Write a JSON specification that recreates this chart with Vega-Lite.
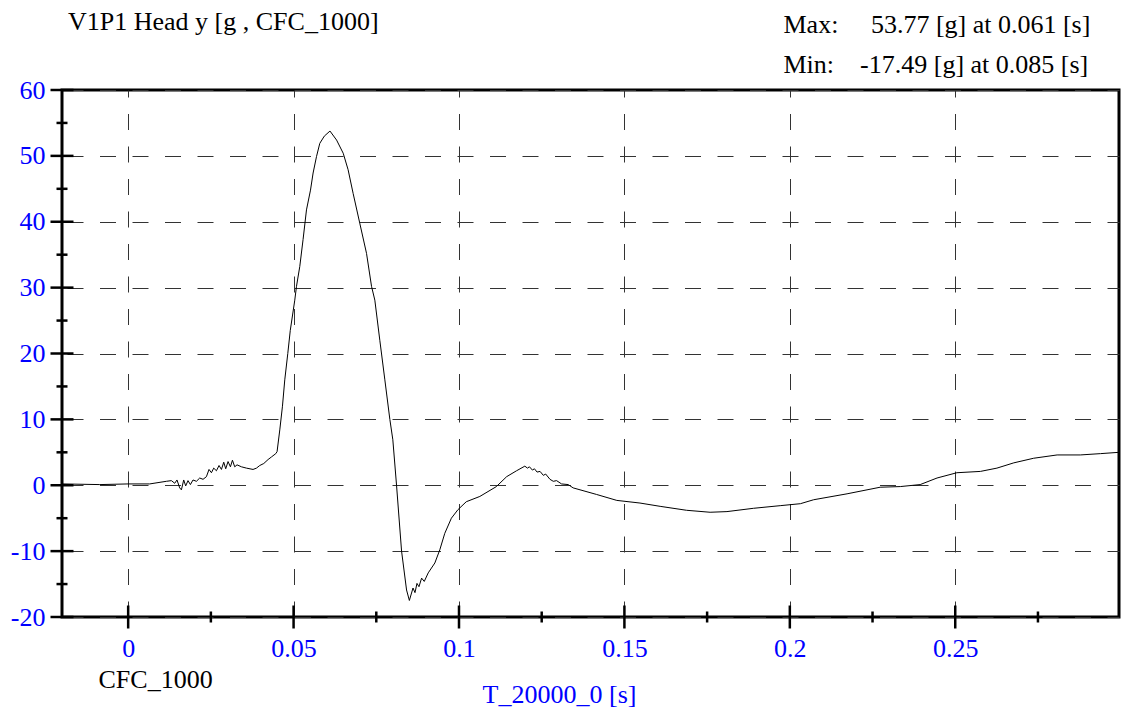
{
  "$schema": "https://vega.github.io/schema/vega-lite/v6.json",
  "width": 1057,
  "height": 527,
  "autosize": {"type": "none"},
  "padding": {"left": 62, "top": 90, "right": 2, "bottom": 96},
  "background": "white",
  "config": {
    "font": "Liberation Serif",
    "view": {"stroke": "black", "strokeWidth": 3},
    "axis": {
      "labelFont": "Liberation Serif",
      "labelFontSize": 26,
      "titleFont": "Liberation Serif",
      "titleFontSize": 26,
      "titleFontWeight": "normal"
    }
  },
  "title": {
    "text": "V1P1 Head y [g , CFC_1000]",
    "orient": "none",
    "anchor": "start",
    "font": "Liberation Serif",
    "fontSize": 26,
    "fontWeight": "normal",
    "color": "black",
    "baseline": "alphabetic",
    "dx": 6,
    "dy": -60
  },
  "datasets": {
    "curve": [
      {"t": -0.02, "g": 0.2}, {"t": -0.0086, "g": 0.1}, {"t": 0.0, "g": 0.2}, {"t": 0.0065, "g": 0.2},
      {"t": 0.01155, "g": 0.6}, {"t": 0.01307, "g": 0.7}, {"t": 0.01407, "g": 0.3}, {"t": 0.01476, "g": 0.8},
      {"t": 0.01558, "g": -0.4}, {"t": 0.01609, "g": -0.7}, {"t": 0.01679, "g": 0.8}, {"t": 0.01739, "g": -0.1},
      {"t": 0.01809, "g": 0.7}, {"t": 0.01881, "g": 0.1}, {"t": 0.0196, "g": 0.8}, {"t": 0.02063, "g": 0.6},
      {"t": 0.02163, "g": 1.1}, {"t": 0.02263, "g": 0.9}, {"t": 0.02365, "g": 1.3}, {"t": 0.02444, "g": 2.4},
      {"t": 0.02517, "g": 1.9}, {"t": 0.02586, "g": 2.6}, {"t": 0.02668, "g": 2.2}, {"t": 0.02747, "g": 3.0},
      {"t": 0.02819, "g": 2.4}, {"t": 0.02889, "g": 3.5}, {"t": 0.02949, "g": 2.5}, {"t": 0.03019, "g": 3.6},
      {"t": 0.03091, "g": 2.8}, {"t": 0.03152, "g": 3.8}, {"t": 0.03221, "g": 2.8}, {"t": 0.03291, "g": 3.1},
      {"t": 0.03424, "g": 2.8}, {"t": 0.03575, "g": 2.6}, {"t": 0.03775, "g": 2.4}, {"t": 0.03878, "g": 2.6},
      {"t": 0.03978, "g": 3.0}, {"t": 0.04099, "g": 3.3}, {"t": 0.04229, "g": 3.9}, {"t": 0.04332, "g": 4.3},
      {"t": 0.04462, "g": 4.8}, {"t": 0.04501, "g": 5.1}, {"t": 0.04583, "g": 8.4}, {"t": 0.04664, "g": 12.0},
      {"t": 0.04734, "g": 16.0}, {"t": 0.04825, "g": 20.0}, {"t": 0.049, "g": 23.5}, {"t": 0.05036, "g": 28.1},
      {"t": 0.05088, "g": 30.2}, {"t": 0.05187, "g": 33.2}, {"t": 0.05287, "g": 37.3}, {"t": 0.0539, "g": 41.8},
      {"t": 0.05511, "g": 44.8}, {"t": 0.0559, "g": 47.4}, {"t": 0.05693, "g": 49.9}, {"t": 0.05792, "g": 51.9},
      {"t": 0.05929, "g": 53.0}, {"t": 0.061, "g": 53.77}, {"t": 0.063, "g": 52.4}, {"t": 0.065, "g": 50.4},
      {"t": 0.06648, "g": 47.9}, {"t": 0.068, "g": 44.3}, {"t": 0.07, "g": 39.8}, {"t": 0.07205, "g": 35.2},
      {"t": 0.07356, "g": 30.2}, {"t": 0.07456, "g": 28.1}, {"t": 0.07607, "g": 22.0}, {"t": 0.07759, "g": 16.0},
      {"t": 0.0791, "g": 10.0}, {"t": 0.08, "g": 6.9}, {"t": 0.08112, "g": 0.0}, {"t": 0.08264, "g": -10.0},
      {"t": 0.08415, "g": -15.9}, {"t": 0.085, "g": -17.49}, {"t": 0.0861, "g": -15.6}, {"t": 0.0867, "g": -16.3},
      {"t": 0.0873, "g": -14.9}, {"t": 0.0879, "g": -15.4}, {"t": 0.0887, "g": -14.1}, {"t": 0.0895, "g": -14.6},
      {"t": 0.0907, "g": -13.3}, {"t": 0.0927, "g": -11.8}, {"t": 0.0942, "g": -9.8}, {"t": 0.0957, "g": -7.3},
      {"t": 0.0977, "g": -5.0}, {"t": 0.0997, "g": -3.7}, {"t": 0.1022, "g": -2.5}, {"t": 0.1063, "g": -1.7},
      {"t": 0.1113, "g": -0.2}, {"t": 0.1144, "g": 1.3}, {"t": 0.1174, "g": 2.2}, {"t": 0.1199, "g": 2.9},
      {"t": 0.1207, "g": 2.6}, {"t": 0.1213, "g": 2.8}, {"t": 0.1222, "g": 2.3}, {"t": 0.1228, "g": 2.5},
      {"t": 0.1236, "g": 2.0}, {"t": 0.1245, "g": 2.1}, {"t": 0.1255, "g": 1.5}, {"t": 0.1262, "g": 1.7},
      {"t": 0.1275, "g": 0.9}, {"t": 0.1285, "g": 0.6}, {"t": 0.1295, "g": 0.7}, {"t": 0.131, "g": 0.2},
      {"t": 0.133, "g": 0.1}, {"t": 0.1345, "g": -0.4}, {"t": 0.1416, "g": -1.4}, {"t": 0.1477, "g": -2.3},
      {"t": 0.1547, "g": -2.7}, {"t": 0.1608, "g": -3.2}, {"t": 0.1688, "g": -3.8}, {"t": 0.1759, "g": -4.1},
      {"t": 0.181, "g": -4.0}, {"t": 0.189, "g": -3.5}, {"t": 0.1971, "g": -3.1}, {"t": 0.2032, "g": -2.8},
      {"t": 0.2072, "g": -2.2}, {"t": 0.2173, "g": -1.3}, {"t": 0.2273, "g": -0.3}, {"t": 0.2334, "g": -0.2},
      {"t": 0.2394, "g": 0.1}, {"t": 0.2445, "g": 1.1}, {"t": 0.2505, "g": 1.9}, {"t": 0.2576, "g": 2.1},
      {"t": 0.2626, "g": 2.6}, {"t": 0.2677, "g": 3.4}, {"t": 0.2737, "g": 4.1}, {"t": 0.2808, "g": 4.6},
      {"t": 0.2878, "g": 4.6}, {"t": 0.2939, "g": 4.8}, {"t": 0.2995, "g": 5.0}
    ],
    "yticks": [
      {"v": -20, "kind": "major"}, {"v": -10, "kind": "major"}, {"v": 0, "kind": "major"}, {"v": 10, "kind": "major"},
      {"v": 20, "kind": "major"}, {"v": 30, "kind": "major"}, {"v": 40, "kind": "major"}, {"v": 50, "kind": "major"},
      {"v": 60, "kind": "major"},
      {"v": -15, "kind": "minor"}, {"v": -5, "kind": "minor"}, {"v": 5, "kind": "minor"}, {"v": 15, "kind": "minor"},
      {"v": 25, "kind": "minor"}, {"v": 35, "kind": "minor"}, {"v": 45, "kind": "minor"}, {"v": 55, "kind": "minor"}
    ],
    "xticks": [
      {"v": 0, "kind": "major"}, {"v": 0.05, "kind": "major"}, {"v": 0.1, "kind": "major"}, {"v": 0.15, "kind": "major"},
      {"v": 0.2, "kind": "major"}, {"v": 0.25, "kind": "major"},
      {"v": 0.025, "kind": "minor"}, {"v": 0.075, "kind": "minor"}, {"v": 0.125, "kind": "minor"},
      {"v": 0.175, "kind": "minor"}, {"v": 0.225, "kind": "minor"}, {"v": 0.275, "kind": "minor"}
    ]
  },
  "layer": [
    {
      "data": {"name": "curve"},
      "mark": {"type": "line", "color": "black", "strokeWidth": 1, "interpolate": "linear"},
      "encoding": {
        "x": {
          "field": "t", "type": "quantitative",
          "scale": {"domain": [-0.02, 0.2995], "nice": false, "zero": false},
          "axis": {
            "orient": "bottom",
            "values": [0, 0.05, 0.1, 0.15, 0.2, 0.25],
            "labelExpr": "'' + datum.value",
            "ticks": false, "domain": false,
            "labelColor": "#0000ff",
            "labelPadding": 18, "labelBaseline": "top",
            "grid": true, "gridColor": "#333333", "gridWidth": 1, "gridDash": [16, 16.5], "gridDashOffset": 9,
            "title": "T_20000_0 [s]",
            "titleColor": "#0000ff",
            "titleX": 497, "titleY": 85, "titleAlign": "center", "titleBaseline": "alphabetic"
          }
        },
        "y": {
          "field": "g", "type": "quantitative",
          "scale": {"domain": [-20, 60], "nice": false, "zero": false},
          "axis": {
            "orient": "left",
            "values": [-20, -10, 0, 10, 20, 30, 40, 50, 60],
            "labelExpr": "'' + datum.value",
            "ticks": false, "domain": false,
            "labelColor": "#0000ff",
            "labelPadding": 17,
            "grid": true, "gridColor": "#333333", "gridWidth": 1, "gridDash": [16, 16.5], "gridDashOffset": 27.5,
            "title": "CFC_1000",
            "titleColor": "black",
            "titleAngle": 0, "titleX": 36, "titleY": 597, "titleAlign": "left", "titleBaseline": "alphabetic"
          }
        }
      }
    },
    {
      "data": {"name": "yticks"},
      "transform": [{"filter": "datum.kind === 'major'"}],
      "mark": {"type": "tick", "orient": "horizontal", "color": "black", "size": 23, "thickness": 2.5, "opacity": 1},
      "encoding": {
        "x": {"datum": -0.02, "type": "quantitative"},
        "y": {
          "field": "v", "type": "quantitative",
          "axis": {
            "orient": "right",
            "labels": false, "ticks": false, "domain": false, "grid": false,
            "title": ["Max:\u00a0\u00a0\u00a0\u00a0\u00a053.77 [g] at 0.061 [s]", "Min:\u00a0\u00a0\u00a0\u00a0-17.49 [g] at 0.085 [s]"],
            "titleColor": "black",
            "titleAngle": 0, "titleX": -336, "titleY": -58, "titleAlign": "left", "titleBaseline": "alphabetic",
            "titleLineHeight": 40
          }
        }
      }
    },
    {
      "data": {"name": "yticks"},
      "transform": [{"filter": "datum.kind === 'minor'"}],
      "mark": {"type": "tick", "orient": "horizontal", "color": "black", "size": 11, "thickness": 2.5, "opacity": 1},
      "encoding": {
        "x": {"datum": -0.02, "type": "quantitative"},
        "y": {"field": "v", "type": "quantitative", "axis": null}
      }
    },
    {
      "data": {"name": "xticks"},
      "transform": [{"filter": "datum.kind === 'major'"}],
      "mark": {"type": "tick", "orient": "vertical", "color": "black", "size": 23, "thickness": 2.5, "opacity": 1},
      "encoding": {
        "x": {"field": "v", "type": "quantitative"},
        "y": {"datum": -20, "type": "quantitative", "axis": null}
      }
    },
    {
      "data": {"name": "xticks"},
      "transform": [{"filter": "datum.kind === 'minor'"}],
      "mark": {"type": "tick", "orient": "vertical", "color": "black", "size": 11, "thickness": 2.5, "opacity": 1},
      "encoding": {
        "x": {"field": "v", "type": "quantitative"},
        "y": {"datum": -20, "type": "quantitative", "axis": null}
      }
    }
  ],
  "resolve": {"axis": {"y": "independent"}}
}
